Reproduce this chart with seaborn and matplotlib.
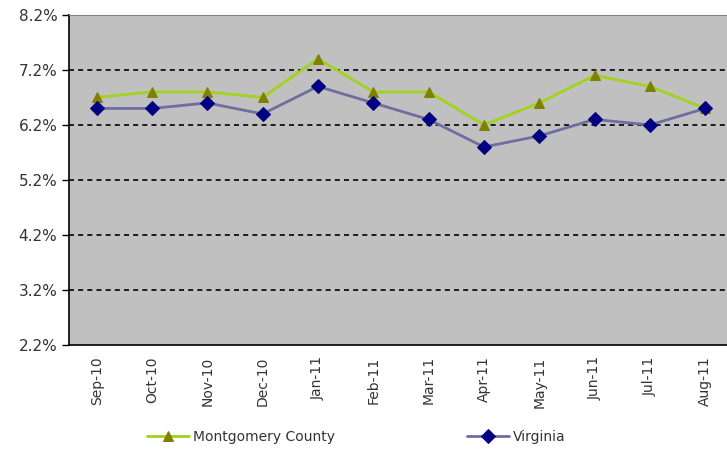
import pandas as pd
import matplotlib
matplotlib.use("Agg")
import matplotlib.pyplot as plt
import seaborn as sns

# Данные (проценты)
months = ["Sep-10", "Oct-10", "Nov-10", "Dec-10", "Jan-11", "Feb-11",
          "Mar-11", "Apr-11", "May-11", "Jun-11", "Jul-11", "Aug-11"]
montgomery = [6.7, 6.8, 6.8, 6.7, 7.4, 6.8, 6.8, 6.2, 6.6, 7.1, 6.9, 6.5]
virginia = [6.5, 6.5, 6.6, 6.4, 6.9, 6.6, 6.3, 5.8, 6.0, 6.3, 6.2, 6.5]
y_ticks = [2.2, 3.2, 4.2, 5.2, 6.2, 7.2, 8.2]

df = pd.DataFrame({"month": months, "Montgomery County": montgomery, "Virginia": virginia})

sns.set_theme(style="white")
plt.rcParams.update({"font.family": ["DejaVu Sans"], "font.size": 9})

fig = plt.figure(figsize=(7.27, 4.5), dpi=100)
ax = fig.add_axes([0.095, 0.233, 0.913, 0.734])
ax.set_facecolor("#c0c0c0")

sns.lineplot(data=df, x="month", y="Montgomery County", sort=False, ax=ax,
             color="#a3d21c", linewidth=2, marker="^", markersize=7,
             markerfacecolor="#808000", markeredgecolor="#808000",
             label="Montgomery County", zorder=3)
sns.lineplot(data=df, x="month", y="Virginia", sort=False, ax=ax,
             color="#6e6ea0", linewidth=2, marker="D", markersize=7,
             markerfacecolor="#000080", markeredgecolor="#000080",
             label="Virginia", zorder=4)

ax.set_xlim(-0.5, len(months) - 0.5)
ax.set_ylim(y_ticks[0], y_ticks[-1])
ax.set_yticks(y_ticks)
ax.set_yticklabels([f"{v:.1f}%" for v in y_ticks], color="#333333")
ax.set_xticks(range(len(months)))
ax.set_xticklabels(months, rotation=90, color="#333333", fontsize=10)
ax.set_xticks([i - 0.5 for i in range(len(months) + 1)], minor=True)
ax.tick_params(axis="x", which="major", length=0, pad=8)
ax.tick_params(axis="x", which="minor", length=5, width=1, color="black", direction="out")
ax.tick_params(axis="y", length=5, width=1, color="black", direction="out", left=True)
ax.set_xlabel("")
ax.set_ylabel("")

# пунктирная сетка
for v in y_ticks[1:-1]:
    ax.axhline(v, color="black", linestyle=(0, (3, 2.5)), linewidth=1.2, zorder=1)

for side in ["left", "bottom"]:
    ax.spines[side].set_color("black")
    ax.spines[side].set_linewidth(1.2)
for side in ["top", "right"]:
    ax.spines[side].set_color("#808080")
    ax.spines[side].set_linewidth(0.8)

handles, labels = ax.get_legend_handles_labels()
ax.legend(handles, labels, loc="center", bbox_to_anchor=(0.49, 0.03),
          bbox_transform=fig.transFigure, ncol=2, frameon=False,
          columnspacing=9.5, handlelength=3, handletextpad=0.3,
          fontsize=10, labelcolor="#333333")

fig.savefig("out.png", dpi=100)
